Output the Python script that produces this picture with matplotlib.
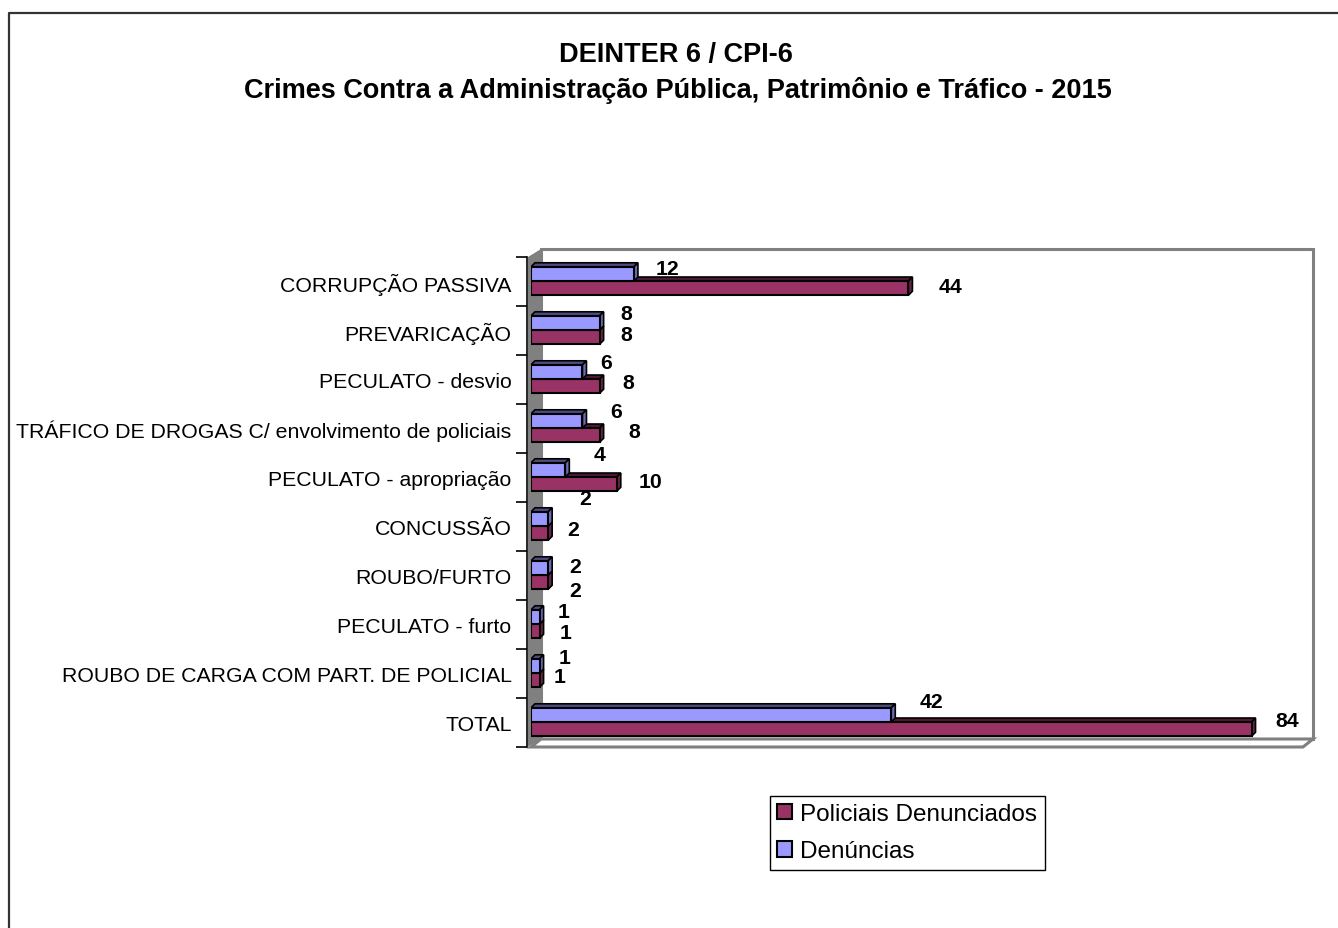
import matplotlib
matplotlib.use("Agg")
import matplotlib.pyplot as plt
from matplotlib.patches import Polygon, Rectangle, Patch
from matplotlib.lines import Line2D

plt.rcParams['font.family'] = ['Liberation Sans', 'DejaVu Sans']

# ---------------- data ----------------
categories = [
    "CORRUPÇÃO PASSIVA",
    "PREVARICAÇÃO",
    "PECULATO - desvio",
    "TRÁFICO DE DROGAS C/ envolvimento de policiais",
    "PECULATO - apropriação",
    "CONCUSSÃO",
    "ROUBO/FURTO",
    "PECULATO - furto",
    "ROUBO DE CARGA COM PART. DE POLICIAL",
    "TOTAL",
]
denuncias = [12, 8, 6, 6, 4, 2, 2, 1, 1, 42]
policiais = [44, 8, 8, 8, 10, 2, 2, 1, 1, 84]
series_names = ["Policiais Denunciados", "Denúncias"]
title_lines = ["DEINTER 6 / CPI-6",
               "Crimes Contra a Administração Pública, Patrimônio e Tráfico - 2015"]

# ---------------- style / layout ----------------
W, H = 1338, 929
DPI = 100
C_BLUE, C_BLUE_TOP, C_BLUE_SIDE = "#9999FF", "#4d4d80", "#6b6bb3"
C_MAR, C_MAR_TOP, C_MAR_SIDE = "#993366", "#4d1a33", "#6b2447"
GRAY = "#808080"
XMAX = 90

# label offsets in pixels (dx from bar end, dy relative to bar centre; +down)
lab_dx_blue = [34, 27, 24, 34, 34, 37, 27, 24, 25, 40]
lab_dy_blue = [-5, -9, -9, -9, -15, -20, -1, -5, -8, -13]
lab_dx_mar = [42, 27, 29, 35, 34, 25, 27, 26, 20, 36]
lab_dy_mar = [-2, -3, -4, -4, -3, -4, 8, 1, -4, -9]

fig = plt.figure(figsize=(W / DPI, H / DPI), dpi=DPI)
x0p, x1p, y0p, y1p = 531, 1303, 258, 748
ax = fig.add_axes([x0p / W, 1 - y1p / H, (x1p - x0p) / W, (y1p - y0p) / H])
n = len(categories)
ax.set_xlim(0, XMAX)
ax.set_ylim(n - 0.5, -0.5)

ppx = (x1p - x0p) / XMAX      # px per x unit
ppy = (y1p - y0p) / n         # px per category
DX, DY = 10 / ppx, 8 / ppy    # wall depth
bdx, bdy = 4 / ppx, 4 / ppy   # bar depth
ax_off = 3 / ppx

for s in ["top", "right", "bottom"]:
    ax.spines[s].set_visible(False)
ax.spines["left"].set_position(("outward", 3))
ax.spines["left"].set_linewidth(1.2)
ax.set_xticks([])

# walls
ax.add_patch(Polygon([(-ax_off, -0.5), (DX, -0.5 - DY), (DX, n - 0.5 - DY), (-ax_off, n - 0.5)],
                     closed=True, facecolor=GRAY, edgecolor="none", zorder=1, clip_on=False))
ax.add_patch(Rectangle((DX, -0.5 - DY), XMAX, n, facecolor="white", edgecolor=GRAY,
                       lw=2.2, zorder=0.5, clip_on=False))
ax.add_patch(Polygon([(0, n - 0.5), (XMAX, n - 0.5), (XMAX + DX, n - 0.5 - DY), (DX, n - 0.5 - DY)],
                     closed=True, facecolor="white", edgecolor=GRAY, lw=2.2, zorder=0.8, clip_on=False))

# ticks
ax.set_yticks(range(n))
ax.set_yticklabels(categories, fontsize=15.3)
ax.tick_params(axis="y", which="major", length=0, pad=11)
ax.set_yticks([k - 0.5 for k in range(n + 1)], minor=True)
ax.tick_params(axis="y", which="minor", length=8, width=1.2, direction="out")

h = 0.29
ys = list(range(n))
bars_m = ax.barh([y + 0.135 for y in ys], policiais, height=h, color=C_MAR,
                 edgecolor="black", lw=1.5, zorder=3)
bars_b = ax.barh([y - 0.155 for y in ys], denuncias, height=h, color=C_BLUE,
                 edgecolor="black", lw=1.5, zorder=5)


def add_3d(bars, ctop, cside, z):
    for p in bars:
        xa = p.get_x()
        xb = xa + p.get_width()
        yt = p.get_y()
        yb = yt + p.get_height()
        ax.add_patch(Polygon([(xa, yt), (xb, yt), (xb + bdx, yt - bdy), (xa + bdx, yt - bdy)],
                             closed=True, facecolor=ctop, edgecolor="black", lw=1.2, zorder=z))
        ax.add_patch(Polygon([(xb, yt), (xb + bdx, yt - bdy), (xb + bdx, yb - bdy), (xb, yb)],
                             closed=True, facecolor=cside, edgecolor="black", lw=1.2, zorder=z))


add_3d(bars_m, C_MAR_TOP, C_MAR_SIDE, 2.9)
add_3d(bars_b, C_BLUE_TOP, C_BLUE_SIDE, 4.9)

for i, p in enumerate(bars_b):
    ax.annotate(str(denuncias[i]), (p.get_x() + p.get_width(), p.get_y() + p.get_height() / 2),
                xytext=(lab_dx_blue[i], -lab_dy_blue[i]), textcoords="offset pixels",
                ha="center", va="center", fontsize=15.3, fontweight="bold", zorder=6,
                annotation_clip=False)
for i, p in enumerate(bars_m):
    ax.annotate(str(policiais[i]), (p.get_x() + p.get_width(), p.get_y() + p.get_height() / 2),
                xytext=(lab_dx_mar[i], -lab_dy_mar[i]), textcoords="offset pixels",
                ha="center", va="center", fontsize=15.3, fontweight="bold", zorder=6,
                annotation_clip=False)

# title
fig.text(676 / W, 1 - 55 / H, title_lines[0], ha="center", va="center",
         fontsize=19.5, fontweight="bold")
fig.text(678 / W, 1 - 90 / H, title_lines[1], ha="center", va="center",
         fontsize=19.5, fontweight="bold")

# legend
handles = [Patch(facecolor=C_MAR, edgecolor="black", lw=1.5),
           Patch(facecolor=C_BLUE, edgecolor="black", lw=1.5)]
leg = fig.legend(handles, series_names, loc="upper left",
                 bbox_to_anchor=(770 / W, 1 - 797 / H), fontsize=17.5,
                 frameon=True, fancybox=False, shadow=False, framealpha=1,
                 handlelength=0.6, handleheight=0.6, handletextpad=0.35,
                 labelspacing=0.62, borderpad=0.3, borderaxespad=0)
leg.get_frame().set_edgecolor("black")
leg.get_frame().set_linewidth(1.0)

# outer chart border
fig.add_artist(Line2D([8.5 / W, 8.5 / W, 1.0], [0, 1 - 14 / H, 1 - 14 / H],
                      transform=fig.transFigure, color="#333333", lw=1.6))

fig.savefig("out.png", dpi=DPI)
